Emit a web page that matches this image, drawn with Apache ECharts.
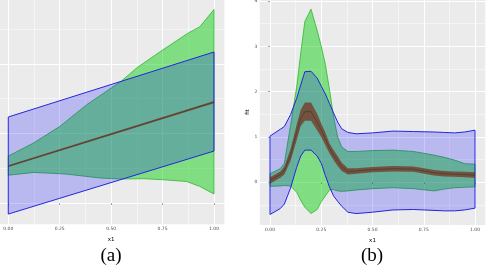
<!DOCTYPE html>
<html>
<head>
<meta charset="utf-8">
<script src="https://cdn.jsdelivr.net/npm/echarts@6/dist/echarts.min.js"></script>
<style>html,body{margin:0;padding:0;background:#fff}#c{width:486px;height:276px}</style>
</head>
<body>
<div id="c"></div>
<script>
// ---------- Panel (a) ----------
const aX = [0, 1];
const aBlueHi = [1.236, 2.17];
const aBlueLo = [-0.158, 0.747];
const aFit = [0.53, 1.45];
const aFitHi = [0.542, 1.465];
const aFitLo = [0.518, 1.435];
const aGreenHiX = [0, 0.12, 0.25, 0.38, 0.55, 0.63, 0.75, 0.875, 0.93, 1.0];
const aGreenHi = [0.675, 0.858, 1.1, 1.41, 1.753, 1.954, 2.198, 2.443, 2.53, 2.78];
const aGreenLoX = [0, 0.125, 0.28, 0.446, 0.55, 0.656, 0.754, 0.867, 0.93, 1.0];
const aGreenLo = [0.40, 0.44, 0.417, 0.36, 0.345, 0.35, 0.335, 0.31, 0.24, 0.13];
const aYMajor = [0, 1, 2];
const aYMinor = [0.5, 1.5, 2.5];

// ---------- Panel (b) ----------
const bX = [0, 0.05, 0.07, 0.1, 0.13, 0.15, 0.17, 0.2, 0.23, 0.25, 0.27, 0.29, 0.31, 0.33, 0.35, 0.38, 0.42, 0.5, 0.6, 0.7, 0.8, 0.85, 0.9, 0.95, 1.0];
const bBlueHi = [1.02, 1.17, 1.23, 1.49, 1.85, 2.15, 2.44, 2.45, 2.3, 2.12, 1.95, 1.74, 1.53, 1.33, 1.18, 1.1, 1.07, 1.09, 1.13, 1.12, 1.11, 1.10, 1.09, 1.11, 1.15];
const bBlueLo = [-0.71, -0.58, -0.48, -0.13, 0.33, 0.58, 0.71, 0.71, 0.58, 0.42, 0.15, -0.1, -0.3, -0.42, -0.53, -0.66, -0.69, -0.66, -0.61, -0.6, -0.62, -0.63, -0.63, -0.61, -0.57];
const bGreenHi = [0.19, 0.3, 0.42, 1.25, 2.1, 2.85, 3.55, 3.82, 3.35, 3.0, 2.6, 2.05, 1.45, 1.0, 0.78, 0.68, 0.68, 0.7, 0.71, 0.68, 0.6, 0.55, 0.49, 0.41, 0.4];
const bGreenLo = [-0.09, -0.08, -0.07, -0.08, -0.22, -0.4, -0.55, -0.69, -0.6, -0.43, -0.3, -0.17, -0.16, -0.19, -0.2, -0.19, -0.17, -0.14, -0.12, -0.14, -0.19, -0.15, -0.12, -0.11, -0.1];
const bFit = [0.04, 0.17, 0.26, 0.6, 1.1, 1.42, 1.56, 1.56, 1.33, 1.15, 0.96, 0.75, 0.6, 0.47, 0.34, 0.24, 0.25, 0.28, 0.3, 0.29, 0.21, 0.19, 0.18, 0.17, 0.16];
const bFitHi = [0.11, 0.24, 0.35, 0.73, 1.27, 1.6, 1.76, 1.76, 1.51, 1.3, 1.1, 0.86, 0.71, 0.58, 0.43, 0.31, 0.31, 0.34, 0.36, 0.35, 0.27, 0.25, 0.24, 0.23, 0.22];
const bFitLo = [-0.03, 0.1, 0.17, 0.47, 0.93, 1.24, 1.36, 1.36, 1.15, 1.0, 0.82, 0.64, 0.49, 0.36, 0.25, 0.17, 0.19, 0.22, 0.24, 0.23, 0.15, 0.13, 0.12, 0.11, 0.1];
const bYMajor = [0, 1, 2, 3, 4];
const bYMinor = [-0.5, 0.5, 1.5, 2.5, 3.5];

const xMajor = [0, 0.25, 0.5, 0.75, 1];
const xMinor = [0.125, 0.375, 0.625, 0.875];
const xTickLabels = ['0.00', '0.25', '0.50', '0.75', '1.00'];

const BG = '#EBEBEB';
const GREEN_FILL = 'rgba(0,205,0,0.45)', GREEN_LINE = '#2fb52f';
const BLUE_FILL = 'rgba(0,0,255,0.21)', BLUE_LINE = '#2424e0';
const BROWN_FILL = 'rgba(120,40,20,0.68)', FIT_LINE = '#4b3b33';
const TICKFONT = {fontFamily: 'DejaVu Sans', fontSize: 4.5, color: '#4D4D4D'};

function band(xi, hiX, hi, loX, lo, fill, stroke, lw, z) {
  return {
    type: 'custom', xAxisIndex: xi, yAxisIndex: xi, z: z, silent: true,
    data: [[hiX[0], hi[0]]],
    renderItem: function (params, api) {
      const pts = [];
      for (let i = 0; i < hiX.length; i++) pts.push(api.coord([hiX[i], hi[i]]));
      for (let i = loX.length - 1; i >= 0; i--) pts.push(api.coord([loX[i], lo[i]]));
      return {type: 'polygon', shape: {points: pts},
        style: {fill: fill, stroke: stroke, lineWidth: lw, lineJoin: 'round'}};
    }
  };
}
function line(xi, xs, ys, z, w) {
  return {type: 'line', xAxisIndex: xi, yAxisIndex: xi, z: z, silent: true, symbol: 'none',
    data: xs.map((x, i) => [x, ys[i]]), lineStyle: {color: FIT_LINE, width: w}};
}
function mainX(grid, name) {
  return {type: 'value', gridIndex: grid, min: -0.05, max: 1.05,
    name: name, nameLocation: 'middle', nameGap: 11,
    nameTextStyle: {fontFamily: 'DejaVu Sans', fontSize: 5.5, color: '#000'},
    axisLine: {show: false},
    axisTick: {show: true, length: 1.8, customValues: xMajor, lineStyle: {color: '#333', width: 0.5}},
    axisLabel: {show: true, margin: 2.5, customValues: xMajor,
      formatter: v => xTickLabels[xMajor.indexOf(Math.round(v * 1000) / 1000)], ...TICKFONT},
    splitLine: {show: true, lineStyle: {color: '#fff', width: 1}}};
}
function minorX(grid) {
  return {type: 'value', gridIndex: grid, min: -0.05, max: 1.05,
    axisLine: {show: false}, axisLabel: {show: false},
    axisTick: {show: false, customValues: xMinor},
    splitLine: {show: true, lineStyle: {color: '#fff', width: 0.5}}};
}
function mainY(grid, min, max, major, showLabels, name) {
  return {type: 'value', gridIndex: grid, min: min, max: max,
    name: name || '', nameLocation: 'middle', nameGap: 8.5,
    nameTextStyle: {fontFamily: 'DejaVu Sans', fontSize: 5.5, color: '#000'},
    axisLine: {show: false},
    axisTick: {show: showLabels, length: 1.8, customValues: major, lineStyle: {color: '#333', width: 0.5}},
    axisLabel: {show: showLabels, margin: 2.5, customValues: major, ...TICKFONT},
    splitLine: {show: true, lineStyle: {color: '#fff', width: 1}}};
}
function minorY(grid, min, max, minor) {
  return {type: 'value', gridIndex: grid, min: min, max: max,
    axisLine: {show: false}, axisLabel: {show: false},
    axisTick: {show: false, customValues: minor},
    splitLine: {show: true, lineStyle: {color: '#fff', width: 0.5}}};
}

const chart = echarts.init(document.getElementById('c'), null, {renderer: 'canvas'});
chart.setOption({
  animation: false,
  backgroundColor: '#fff',
  title: [
    {text: '(a)', left: 106, top: 242, textAlign: 'center',
      textStyle: {fontFamily: 'Liberation Serif', fontSize: 19, fontWeight: 'normal', color: '#000'}},
    {text: '(b)', left: 367, top: 242, textAlign: 'center',
      textStyle: {fontFamily: 'Liberation Serif', fontSize: 19, fontWeight: 'normal', color: '#000'}}
  ],
  grid: [
    {left: -2, top: -1.2, width: 226.3, height: 225.5, show: true, backgroundColor: BG, borderWidth: 0, containLabel: false, outerBoundsMode: 'none'},
    {left: 259.75, top: -0.8, width: 225.5, height: 225.7, show: true, backgroundColor: BG, borderWidth: 0, containLabel: false, outerBoundsMode: 'none'}
  ],
  xAxis: [mainX(0, 'x1'), minorX(0), mainX(1, 'x1'), minorX(1)],
  yAxis: [
    mainY(0, -0.305, 2.934, aYMajor, false), minorY(0, -0.305, 2.934, aYMinor),
    mainY(1, -0.94, 4.04, bYMajor, true, 'fit'), minorY(1, -0.94, 4.04, bYMinor)
  ],
  series: [
    band(0, aGreenHiX, aGreenHi, aGreenLoX, aGreenLo, GREEN_FILL, GREEN_LINE, 0.8, 2),
    band(0, aX, aBlueHi, aX, aBlueLo, BLUE_FILL, BLUE_LINE, 1, 3),
    band(0, aX, aFitHi, aX, aFitLo, BROWN_FILL, 'rgba(0,0,0,0)', 0, 4),
    line(0, aX, aFit, 5, 0.7),
    band(2, bX, bGreenHi, bX, bGreenLo, GREEN_FILL, GREEN_LINE, 0.8, 2),
    band(2, bX, bBlueHi, bX, bBlueLo, BLUE_FILL, BLUE_LINE, 1, 3),
    band(2, bX, bFitHi, bX, bFitLo, BROWN_FILL, 'rgba(0,0,0,0)', 0, 4),
    line(2, bX, bFit, 5, 0.8)
  ]
});
</script>
</body>
</html>
